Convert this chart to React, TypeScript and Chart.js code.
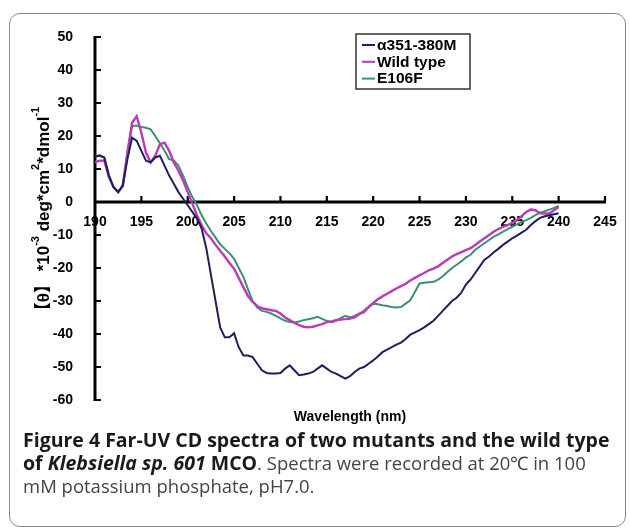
import React, { useEffect, useRef } from "react";
import { Chart, registerables } from "chart.js";

Chart.register(...registerables);

const wavelengths = [
  190, 190.5, 191, 191.5, 192, 192.5, 193, 193.5, 194, 194.5,
  195, 195.5, 196, 196.5, 197, 197.5, 198, 198.5, 199, 199.5,
  200, 200.5, 201, 201.5, 202, 202.5, 203, 203.5, 204, 204.5,
  205, 205.5, 206, 206.5, 207, 207.5, 208, 208.5, 209, 209.5,
  210, 210.5, 211, 211.5, 212, 212.5, 213, 213.5, 214, 214.5,
  215, 215.5, 216, 216.5, 217, 217.5, 218, 218.5, 219, 219.5,
  220, 220.5, 221, 221.5, 222, 222.5, 223, 223.5, 224, 224.5,
  225, 225.5, 226, 226.5, 227, 227.5, 228, 228.5, 229, 229.5,
  230, 230.5, 231, 231.5, 232, 232.5, 233, 233.5, 234, 234.5,
  235, 235.5, 236, 236.5, 237, 237.5, 238, 238.5, 239, 239.5,
  240,
];

const alpha351 = [
  13.8, 14.0, 13.5, 8, 4.5, 3, 5, 13, 19.5, 18.5,
  15.5, 12.5, 12, 13.5, 14, 11, 8, 5.5, 3, 1,
  -1, -3, -5, -8, -14, -22, -30, -38, -41, -41,
  -39.8, -44, -46.5, -46.5, -47, -49, -51, -51.8, -52, -52,
  -51.8, -50.5, -49.5, -51, -52.5, -52.3, -52, -51.5, -50.5, -49.5,
  -50.5, -51.5, -52, -52.8, -53.5, -52.8, -51.5, -50.5, -50, -49,
  -48, -46.8, -45.5, -44.7, -44, -43.2, -42.6, -41.5, -40.2, -39.5,
  -38.8, -38, -37, -36, -34.5, -33, -31.5, -30, -29, -27.5,
  -25, -23.5, -21.5, -19.5, -17.5, -16.5, -15.2, -14.2, -13, -12,
  -11, -10.2, -9.3, -8.4, -7, -5.8, -4.8, -4.3, -4, -3.7,
  -3.4,
];

const wildType = [
  12.1, 12.5, 12.5, 7.5, 4.5, 3, 5, 15, 24, 26,
  21, 15, 12, 14, 17.5, 18, 15.5, 12, 9.5, 6.5,
  3, -0.5, -4, -7, -9.5, -11, -13, -14.8, -16.5, -18.5,
  -20.2, -23, -25.8, -28.5, -30.3, -31.5, -32.2, -32.5, -32.8, -33,
  -33.8, -35, -35.8, -36.6, -37.3, -37.8, -38, -37.8, -37.4, -37,
  -36.4, -36.2, -35.8, -35.6, -35.5, -35.3, -35, -34, -33, -31.8,
  -30.6, -29.5, -28.6, -27.8, -27, -26.2, -25.5, -24.8, -23.8, -23,
  -22.2, -21.5, -20.7, -20.2, -19.5, -18.5, -17.5, -16.5, -15.8, -15.2,
  -14.6, -14, -13, -12, -11, -10, -9, -8.2, -7.5, -7,
  -6.3, -5.5, -4.3, -3, -2.3, -2.5, -3.4, -3.5, -3.5, -2.5,
  -1.5,
];

const e106f = [
  13.8, 14.2, 13.5, 8, 4.5, 3, 5, 15, 23, 23.2,
  22.7, 22.5, 22, 20, 17.8, 15.5, 13, 12.6, 11, 8,
  4.5, 1.5, -1, -4, -6.5, -8.8, -10.8, -12.8, -14.2, -15.5,
  -17.2, -20, -22.7, -26.5, -30, -32, -33, -33.3, -33.8, -34.5,
  -35.3, -36, -36.4, -36.5, -36.2, -35.8, -35.5, -35.2, -34.8, -35.4,
  -36, -36.4, -36, -35.2, -34.5, -35, -34.5, -33.8, -33.5, -32,
  -30.8, -31, -31.3, -31.5, -31.8, -32, -31.8, -30.8, -29.8, -27.3,
  -24.7, -24.5, -24.3, -24.2, -23.5, -22.5, -21.2, -20, -19, -18,
  -16.8, -16, -14.5, -13.5, -12.5, -11.5, -10.5, -9.8, -9, -8.2,
  -7.5, -6.8, -6, -5.5, -4.8, -4, -3.2, -2.8, -2.3, -1.8,
  -1.2,
];

const seriesLabels = ["\u03b1351-380M", "Wild type", "E106F"];
const seriesColors = ["#1f1f5e", "#b83cb8", "#3f8f6f"];
const xTickValues = [190, 195, 200, 205, 210, 215, 220, 225, 230, 235, 240, 245];
const yTickValues = [50, 40, 30, 20, 10, 0, -10, -20, -30, -40, -50, -60];

const FONT = '"Liberation Sans", Arial, "Noto Sans CJK SC", sans-serif';

const axesPlugin = {
  id: "axesPlugin",
  beforeDatasetsDraw(chart: any) {
    const { ctx } = chart;
    const xs = chart.scales.x;
    const ys = chart.scales.y;
    const x0 = xs.getPixelForValue(190);
    const x1 = xs.getPixelForValue(245);
    const yTop = ys.getPixelForValue(50);
    const yBot = ys.getPixelForValue(-60);
    const yZero = ys.getPixelForValue(0);
    ctx.save();
    ctx.strokeStyle = "#000";
    ctx.lineCap = "butt";
    ctx.lineWidth = 3;
    ctx.beginPath();
    ctx.moveTo(x0, yTop - 1);
    ctx.lineTo(x0, yBot + 1);
    ctx.moveTo(x0, yZero);
    ctx.lineTo(x1 + 1, yZero);
    ctx.stroke();
    ctx.lineWidth = 2.2;
    ctx.beginPath();
    yTickValues.forEach((v) => {
      const p = ys.getPixelForValue(v);
      ctx.moveTo(x0, p);
      ctx.lineTo(x0 + 6, p);
    });
    xTickValues.forEach((v) => {
      if (v === 190) return;
      const p = xs.getPixelForValue(v);
      ctx.moveTo(p, yZero);
      ctx.lineTo(p, yZero - 6);
    });
    ctx.stroke();
    ctx.restore();
  },
};

const textPlugin = {
  id: "textPlugin",
  afterDraw(chart: any) {
    const { ctx, chartArea } = chart;
    ctx.save();
    // x title
    ctx.fillStyle = "#000";
    ctx.font = `bold 14px ${FONT}`;
    ctx.textAlign = "center";
    ctx.textBaseline = "middle";
    ctx.fillText("Wavelength (nm)", (chartArea.left + chartArea.right) / 2, chartArea.bottom + 17);

    // y title (rotated, with superscripts)
    const segs = [
      { t: "\u3010\u03b8\u3011", sup: false },
      { t: " *10", sup: false },
      { t: "-3", sup: true },
      { t: " deg*cm", sup: false },
      { t: "2", sup: true },
      { t: "*dmol", sup: false },
      { t: "-1", sup: true },
    ];
    const mainFont = `bold 17px ${FONT}`;
    const supFont = `bold 11px ${FONT}`;
    let total = 0;
    const widths = segs.map((s) => {
      ctx.font = s.sup ? supFont : mainFont;
      const w = ctx.measureText(s.t).width;
      total += w;
      return w;
    });
    ctx.translate(44, 213);
    ctx.rotate(-Math.PI / 2);
    ctx.textAlign = "left";
    ctx.textBaseline = "middle";
    let cx = -total / 2;
    segs.forEach((s, i) => {
      ctx.font = s.sup ? supFont : mainFont;
      ctx.fillText(s.t, cx, s.sup ? -8 : 0);
      cx += widths[i];
    });
    ctx.restore();

    // legend
    ctx.save();
    const lx = 356;
    const ly = 34;
    const lw = 114;
    const lh = 55;
    ctx.fillStyle = "#fff";
    ctx.fillRect(lx, ly, lw, lh);
    ctx.strokeStyle = "#333";
    ctx.lineWidth = 1.5;
    ctx.strokeRect(lx, ly, lw, lh);
    ctx.font = `bold 15.5px ${FONT}`;
    ctx.textAlign = "left";
    ctx.textBaseline = "middle";
    chart.data.datasets.forEach((ds: any, i: number) => {
      const ry = ly + 11 + i * 16.8;
      ctx.strokeStyle = ds.borderColor;
      ctx.lineWidth = 2;
      ctx.beginPath();
      ctx.moveTo(lx + 6, ry);
      ctx.lineTo(lx + 19, ry);
      ctx.stroke();
      ctx.fillStyle = "#000";
      ctx.fillText(ds.label, lx + 21, ry + 0.5);
    });
    ctx.restore();
  },
};

function CDChart() {
  const ref = useRef<HTMLCanvasElement | null>(null);
  useEffect(() => {
    if (!ref.current) return;
    const series = [alpha351, wildType, e106f];
    const chart = new Chart(ref.current, {
      type: "line",
      data: {
        datasets: series.map((vals, i) => ({
          label: seriesLabels[i],
          data: wavelengths.map((w, j) => ({ x: w, y: vals[j] })),
          borderColor: seriesColors[i],
          backgroundColor: seriesColors[i],
          borderWidth: i === 1 ? 2.4 : 2,
          pointRadius: 0,
          tension: 0,
          fill: false,
        })),
      },
      options: {
        animation: false,
        responsive: false,
        events: [],
        layout: { padding: { left: 0, top: 37, right: 24, bottom: 30 } },
        plugins: { legend: { display: false }, tooltip: { enabled: false } },
        scales: {
          x: {
            type: "linear",
            min: 190,
            max: 245,
            position: { y: 0 },
            grid: { display: false },
            border: { display: false },
            afterBuildTicks: (s: any) => {
              s.ticks = xTickValues.map((v) => ({ value: v }));
            },
            ticks: {
              autoSkip: false,
              maxRotation: 0,
              padding: 4,
              color: "#000",
              font: { family: FONT, size: 14, weight: "bold" },
            },
          },
          y: {
            type: "linear",
            min: -60,
            max: 50,
            grid: { display: false },
            border: { display: false },
            afterFit: (s: any) => {
              s.width = 95;
            },
            afterBuildTicks: (s: any) => {
              s.ticks = yTickValues.map((v) => ({ value: v }));
            },
            ticks: {
              padding: 14,
              color: "#000",
              font: { family: FONT, size: 14, weight: "bold" },
            },
          },
        },
      } as any,
      plugins: [axesPlugin, textPlugin],
    });
    return () => chart.destroy();
  }, []);
  return <canvas ref={ref} width={629} height={430} style={{ position: "absolute", left: 0, top: 0, width: 629, height: 430 }} />;
}

export default function App() {
  const bold: React.CSSProperties = { fontWeight: 700, color: "#1a1a1a", fontSize: 19.5 };
  return (
    <div style={{ position: "absolute", left: 0, top: 0, width: 629, height: 530, background: "#fff", overflow: "hidden" }}>
      <div
        style={{
          position: "absolute",
          left: 9,
          top: 13,
          width: 617,
          height: 514,
          border: "1.5px solid #8a8a8a",
          borderRadius: 11,
          boxSizing: "border-box",
        }}
      />
      <CDChart />
      <div
        style={{
          position: "absolute",
          left: 23,
          top: 428,
          width: 600,
          fontFamily: '"Open Sans", sans-serif',
          fontSize: 18.5,
          lineHeight: "23px",
          color: "#444",
          whiteSpace: "nowrap",
        }}
      >
        <div style={bold}>Figure 4 Far-UV CD spectra of two mutants and the wild type</div>
        <div>
          <span style={bold}>
            of <i>Klebsiella sp. 601</i> MCO
          </span>
          . Spectra were recorded at 20℃ in 100
        </div>
        <div>mM potassium phosphate, pH7.0.</div>
      </div>
    </div>
  );
}
